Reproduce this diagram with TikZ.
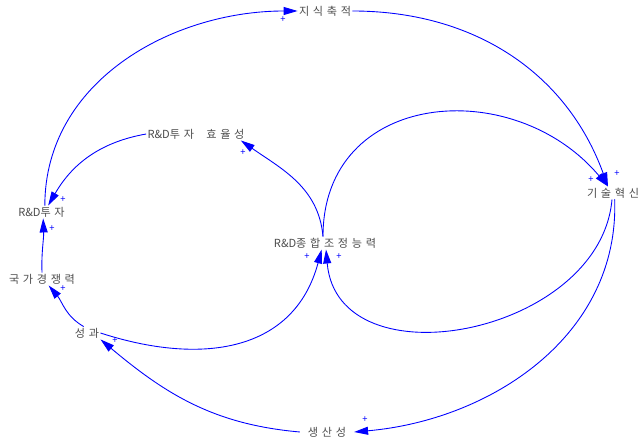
\documentclass[tikz,border=0pt]{standalone}
\usepackage{fontspec}
\newfontfamily\krfont[LetterSpace=33]{Noto Sans CJK KR}
\newfontfamily\latfont{Noto Sans CJK KR}
\usepackage{tikz}
\usetikzlibrary{arrows.meta}

\begin{document}
\begin{tikzpicture}[x=0.3mm, y=0.3mm,
  var/.style={inner sep=1pt, text=black!70,
    font=\krfont\fontsize{9.5}{10}\selectfont},
  link/.style={-{Triangle[length=4.2mm, width=2.4mm]}, line width=0.75pt, color=blue},
  pol/.style={inner sep=0pt, color=blue, font=\latfont\fontsize{8}{8}\selectfont}
]
  \useasboundingbox (0,0) rectangle (641,441);

  \node[var] (KN)  at (325, 430) {지식축적};
  \node[var] (EFF) at (196, 307) {{\latfont R\&D}투자\ \ 효율성};
  \node[var] (INV) at (41.5, 229) {{\latfont R\&D}투자};
  \node[var] (CP)  at (42, 162) {국가경쟁력};
  \node[var] (PF)  at (87, 108) {성과};
  \node[var] (CO)  at (325, 198) {{\latfont R\&D}종합조정능력};
  \node[var] (TI)  at (613, 248) {기술혁신};
  \node[var] (PR)  at (327, 9) {생산성};

  %% outer loop
  \draw[link] ([xshift=1mm]INV.north) to[out=90, in=180] (KN.west);
  \draw[link] (KN.east) to[out=0, in=110] ([xshift=-1.5mm]TI.north);
  \draw[link] ([xshift=0.5mm]TI.south) to[out=-88, in=5] ([xshift=2mm]PR.east);
  \draw[link] ([xshift=-2mm]PR.west) to[out=175, in=-40] (PF.south east);
  \draw[link] ([xshift=-1mm]PF.north) to[out=150, in=-50] ([xshift=2mm]CP.south);
  \draw[link] (CP.north) to[out=92, in=-88] ([xshift=0.5mm]INV.south);

  %% coordination loops
  \draw[link] ([xshift=-0.6mm]CO.north) to[out=90, in=130, looseness=1.3] ([xshift=-1.5mm]TI.north);
  \draw[link] ([xshift=-0.3mm]TI.south) to[out=-95, in=-85, looseness=1.2] ([xshift=0.3mm]CO.south);
  \draw[link] (PF.east) to[out=-18, in=-105, looseness=1.15] ([xshift=-1mm]CO.south);
  \draw[link] ([xshift=-0.6mm]CO.north) to[out=95, in=-35] ([xshift=-1.5mm]EFF.south east);
  \draw[link] (EFF.west) to[out=190, in=60] ([xshift=2mm]INV.north);

  %% polarity
  \node[pol] (p1)  at (283, 421) {+};
  \node[pol] (p2)  at (243, 288) {+};
  \node[pol] (p3)  at (63, 241) {+};
  \node[pol] (p4)  at (52, 212) {+};
  \node[pol] (p5)  at (63, 152) {+};
  \node[pol] (p6)  at (115, 100) {+};
  \node[pol] (p7)  at (307, 184) {+};
  \node[pol] (p8)  at (339, 184) {+};
  \node[pol] (p9)  at (591, 261) {+};
  \node[pol] (p10) at (617, 267) {+};
  \node[pol] (p11) at (365, 21) {+};
\end{tikzpicture}
\end{document}
